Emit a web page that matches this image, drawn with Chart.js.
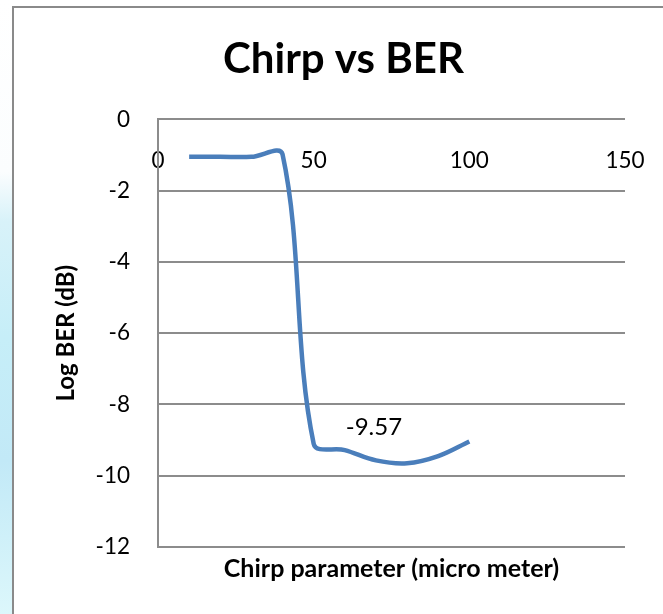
<!DOCTYPE html>
<html>
<head>
<meta charset="utf-8">
<title>Chirp vs BER</title>
<script src="https://cdn.jsdelivr.net/npm/chart.js@4.4.0/dist/chart.umd.min.js"></script>
<style>
  html, body { margin: 0; padding: 0; background: #fff; overflow: hidden; }
  #strip {
    position: absolute; left: 0; top: 0; width: 12px; height: 614px;
    background: linear-gradient(to bottom, #ffffff 0%, #fbfdfe 28%, #d8f2f9 36%, #c6eef8 55%, #c2e9f7 75%, #dcf7fb 100%);
  }
  #frame {
    position: absolute; left: 12px; top: 6px; width: 661px; height: 620px;
    border-left: 2px solid #8a8a8a; border-top: 2px solid #8a8a8a; background: #fff;
  }
  #chart { position: absolute; left: 0; top: 0; }
</style>
</head>
<body>
<div id="strip"></div>
<div id="frame">
  <canvas id="chart" width="659" height="606"></canvas>
</div>
<script>
// chirp parameter (micro meter) and log BER (dB)
const chirp = [10, 20, 30, 40, 50, 60, 70, 80, 90, 100];
const logBer = [-1.05, -1.05, -1.05, -0.98, -9.1, -9.28, -9.57, -9.65, -9.45, -9.04];
// point that carries a data label
const labelledChirp = [70];

const xTicks = [0, 50, 100, 150];
const yTicks = [-12, -10, -8, -6, -4, -2, 0];

const font = "Lato, 'Open Sans', sans-serif";
const gridGrey = "#8c8c8c";

// draw the value label above the chosen point
const pointLabel = {
  id: "pointLabel",
  afterDatasetsDraw(chart) {
    const ctx = chart.ctx;
    const meta = chart.getDatasetMeta(0);
    ctx.save();
    ctx.font = "24px " + font;
    ctx.fillStyle = "#000";
    ctx.textAlign = "center";
    ctx.textBaseline = "middle";
    labelledChirp.forEach(c => {
      const i = chirp.indexOf(c);
      const pt = meta.data[i];
      ctx.fillText(logBer[i].toFixed(2), pt.x - 2, pt.y - 33);
    });
    ctx.restore();
  }
};

new Chart(document.getElementById("chart"), {
  type: "scatter",
  data: {
    datasets: [{
      data: chirp.map((x, i) => ({ x: x, y: logBer[i] })),
      showLine: true,
      borderColor: "#4a7ebb",
      borderWidth: 4.5,
      pointRadius: 0,
      tension: 0.35,
      fill: false
    }]
  },
  options: {
    responsive: false,
    animation: false,
    devicePixelRatio: 1,
    layout: { padding: 0 },
    plugins: {
      legend: { display: false },
      tooltip: { enabled: false },
      title: {
        display: true,
        text: "Chirp vs BER",
        color: "#000",
        font: { family: font, size: 42, weight: "bold" },
        padding: { top: 26, bottom: 35 }
      }
    },
    scales: {
      x: {
        type: "linear",
        position: { y: 0 },
        min: xTicks[0],
        max: xTicks[xTicks.length - 1],
        afterBuildTicks: s => { s.ticks = xTicks.map(v => ({ value: v })); },
        afterFit: s => { s.height = 0; },
        ticks: { color: "#000", font: { family: font, size: 22.5 }, padding: 28, maxRotation: 0 },
        grid: { display: false, drawTicks: false },
        border: { display: false }
      },
      xTitle: {
        type: "linear",
        axis: "x",
        position: "bottom",
        afterFit: s => { s.height = 67; },
        ticks: { display: false },
        grid: { display: false, drawTicks: false },
        border: { display: false },
        title: {
          display: true,
          text: "Chirp parameter (micro meter)",
          color: "#000",
          font: { family: font, size: 25, weight: "bold" },
          padding: { top: 0, bottom: 30 }
        }
      },
      y: {
        min: yTicks[0],
        max: yTicks[yTicks.length - 1],
        afterBuildTicks: s => { s.ticks = yTicks.map(v => ({ value: v })); },
        afterFit: s => { s.width = 144; },
        ticks: { color: "#000", font: { family: font, size: 22.5 }, padding: 28 },
        grid: { color: gridGrey, lineWidth: 2, drawTicks: false },
        border: { display: true, color: gridGrey, width: 2 },
        title: {
          display: true,
          text: "Log BER (dB)",
          color: "#000",
          font: { family: font, size: 24, weight: "bold" },
          padding: { top: 38, bottom: 0 }
        }
      },
      // empty right-hand box that keeps the plot clear of the right edge
      yRight: {
        axis: "y",
        position: "right",
        afterFit: s => { s.width = 48; },
        ticks: { display: false },
        grid: { display: false, drawTicks: false },
        border: { display: false }
      }
    }
  },
  plugins: [pointLabel]
});
</script>
</body>
</html>
